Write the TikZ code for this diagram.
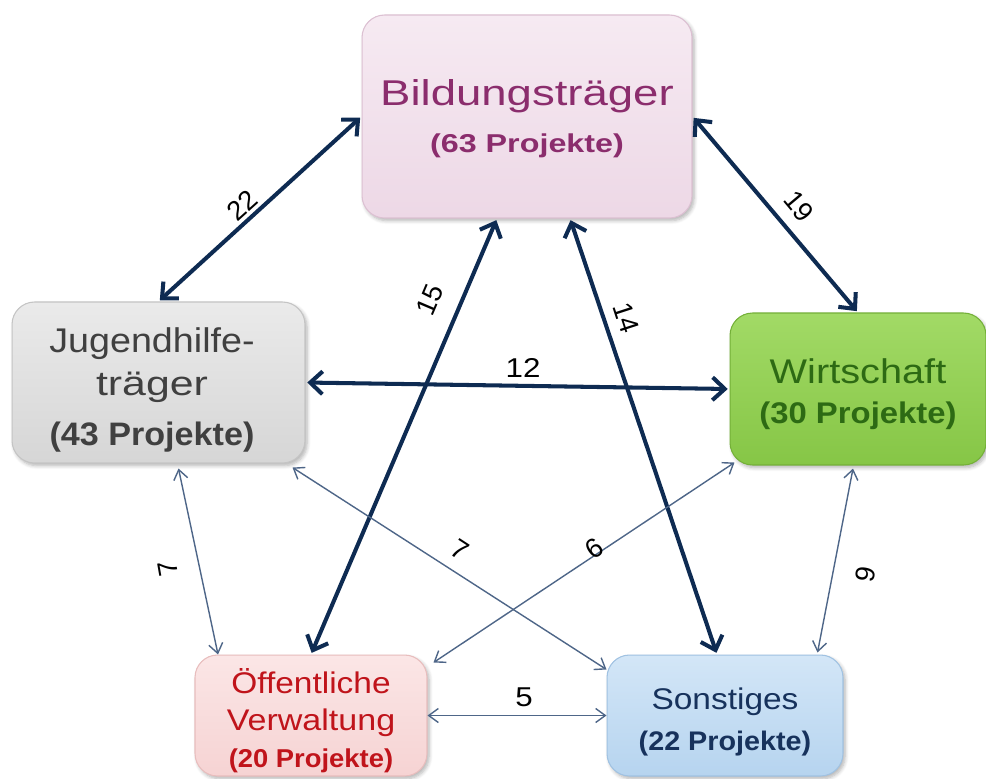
\documentclass[tikz,border=0pt]{standalone}
\usepackage{fontspec}
\setmainfont{Liberation Sans}
\usetikzlibrary{arrows.meta,shadows.blur}
\definecolor{navy}{HTML}{0E2B52}
\definecolor{thinc}{HTML}{4E6688}
\definecolor{bildF}{HTML}{EDD8E6}
\definecolor{bildL}{HTML}{F6EAF2}
\definecolor{bildD}{HTML}{DCC0D2}
\definecolor{bildT}{HTML}{8B2D6D}
\definecolor{jugF}{HTML}{D6D6D6}
\definecolor{jugL}{HTML}{EAEAEA}
\definecolor{jugD}{HTML}{C4C4C4}
\definecolor{jugT}{HTML}{404040}
\definecolor{wirF}{HTML}{86C646}
\definecolor{wirL}{HTML}{A2DA66}
\definecolor{wirD}{HTML}{74B038}
\definecolor{wirT}{HTML}{2D6A14}
\definecolor{oefF}{HTML}{F6D3D3}
\definecolor{oefL}{HTML}{FBE6E6}
\definecolor{oefD}{HTML}{E8BDBD}
\definecolor{oefT}{HTML}{C0141B}
\definecolor{sonF}{HTML}{B6D4EF}
\definecolor{sonL}{HTML}{D3E6F7}
\definecolor{sonD}{HTML}{A0C2E2}
\definecolor{sonT}{HTML}{17325C}
\newcommand{\myfs}[2]{\fontsize{#1}{#2}\selectfont}
\newcommand{\hsx}[2]{\scalebox{#1}[1]{#2}}
\tikzset{
  box/.style={rectangle, rounded corners=0.45cm, inner sep=0pt, line width=0.6pt,
    blur shadow={shadow xshift=1.2pt, shadow yshift=-1.5pt, shadow blur steps=6, shadow opacity=30}},
  txt/.style={align=center, inner sep=0pt},
  lab/.style={font=\myfs{15.5}{18}, text=black, inner sep=1pt},
  thickarr/.style={draw=navy, line width=2.3pt, shorten <=1pt, shorten >=1pt,
    arrows={Straight Barb[length=7pt,width=13pt]-Straight Barb[length=7pt,width=13pt]}},
  thinarr/.style={draw=thinc, line width=0.8pt,
    arrows={Straight Barb[length=5.5pt,width=8pt]-Straight Barb[length=5.5pt,width=8pt]}}
}
\begin{document}
\begin{tikzpicture}[x=0.02cm,y=-0.02cm]
\useasboundingbox (0,0) rectangle (986,778);
% boxes
\node[box, draw=bildD, top color=bildL, bottom color=bildF, minimum width=6.6cm, minimum height=4.06cm] (bild) at (527,116.5) {};
\node[box, draw=jugD, top color=jugL, bottom color=jugF, minimum width=5.86cm, minimum height=3.22cm] (jug) at (158.5,382.5) {};
\node[box, draw=wirD, top color=wirL, bottom color=wirF, minimum width=5.12cm, minimum height=3.04cm] (wirt) at (858,389) {};
\node[box, draw=oefD, top color=oefL, bottom color=oefF, minimum width=4.64cm, minimum height=2.42cm] (oef) at (311,715.5) {};
\node[box, draw=sonD, top color=sonL, bottom color=sonF, minimum width=4.72cm, minimum height=2.42cm] (son) at (725,715.5) {};
% box texts
\node[txt, text=bildT, font=\myfs{20}{26.6}] (bildtxt) at (527,118.5)
  {\hsx{1.27}{\myfs{20.4}{24}Bildungsträger}\\\hsx{1.25}{\myfs{14.7}{17}\bfseries(63 Projekte)}};
\node[txt, text=jugT, font=\myfs{19.5}{24.4}] (jugtxt) at (152,390)
  {\hsx{1.1}{\myfs{19.5}{23}Jugendhilfe-}\\\hsx{1.25}{\myfs{19.5}{23}träger}\\[4pt]\hsx{1.05}{\myfs{18.5}{22}\bfseries(43 Projekte)}};
\node[txt, text=wirT, font=\myfs{19.5}{22.7}] (wirtxt) at (858,394)
  {\hsx{1.16}{\myfs{19.5}{23}Wirtschaft}\\\hsx{1.1}{\myfs{17}{20}\bfseries(30 Projekte)}};
\node[txt, text=oefT, font=\myfs{17}{21}] (oeftxt) at (311,721)
  {\hsx{1.12}{\myfs{17}{20}Öffentliche}\\\hsx{1.14}{\myfs{17}{20}Verwaltung}\\\hsx{1.06}{\myfs{14.7}{17}\bfseries(20 Projekte)}};
\node[txt, text=sonT, font=\myfs{17}{23.8}] (sontxt) at (725,722)
  {\hsx{1.12}{\myfs{17}{20}Sonstiges}\\\hsx{1.07}{\myfs{15.3}{18}\bfseries(22 Projekte)}};
% thick connectors
\draw[thickarr] (bild.west) -- (jug.north);
\draw[thickarr] (bild.east) -- (wirt.north);
\draw[thickarr] (jug.east) -- (wirt.west);
\draw[thickarr] ([xshift=-0.6cm]bild.south) -- (oef.north);
\draw[thickarr] ([xshift=0.86cm]bild.south) -- ([xshift=-0.16cm]son.north);
% thin connectors
\draw[thinarr] ([xshift=0.4cm,yshift=-0.1cm]jug.south) -- ([xshift=-1.86cm]oef.north);
\draw[thinarr] ([xshift=-0.26cm,yshift=-0.08cm]jug.south east) -- ([yshift=-0.3cm]son.north west);
\draw[thinarr] ([xshift=0.1cm,yshift=0.06cm]wirt.south west) -- ([xshift=0.12cm,yshift=-0.16cm]oef.north east);
\draw[thinarr] ([xshift=-0.1cm,yshift=-0.06cm]wirt.south) -- ([xshift=-0.52cm,yshift=0.04cm]son.north east);
\draw[thinarr] (oef.east) -- (son.west);
% labels
\node[lab, rotate=42] (l22) at (242,205) {22};
\node[lab, rotate=-50] (l19) at (799,206) {19};
\node[lab] (l12) at (523,368) {\hsx{1.15}{12}};
\node[lab, rotate=67] (l15) at (430,300) {15};
\node[lab, rotate=-72] (l14) at (626,318) {14};
\node[lab, rotate=100] (l7a) at (168,569) {7};
\node[lab, rotate=-33] (l7b) at (460,550) {7};
\node[lab, rotate=35] (l6) at (594,548) {6};
\node[lab, rotate=80] (l9) at (866,574) {9};
\node[lab] (l5) at (524,697) {\hsx{1.15}{5}};
\end{tikzpicture}
\end{document}
